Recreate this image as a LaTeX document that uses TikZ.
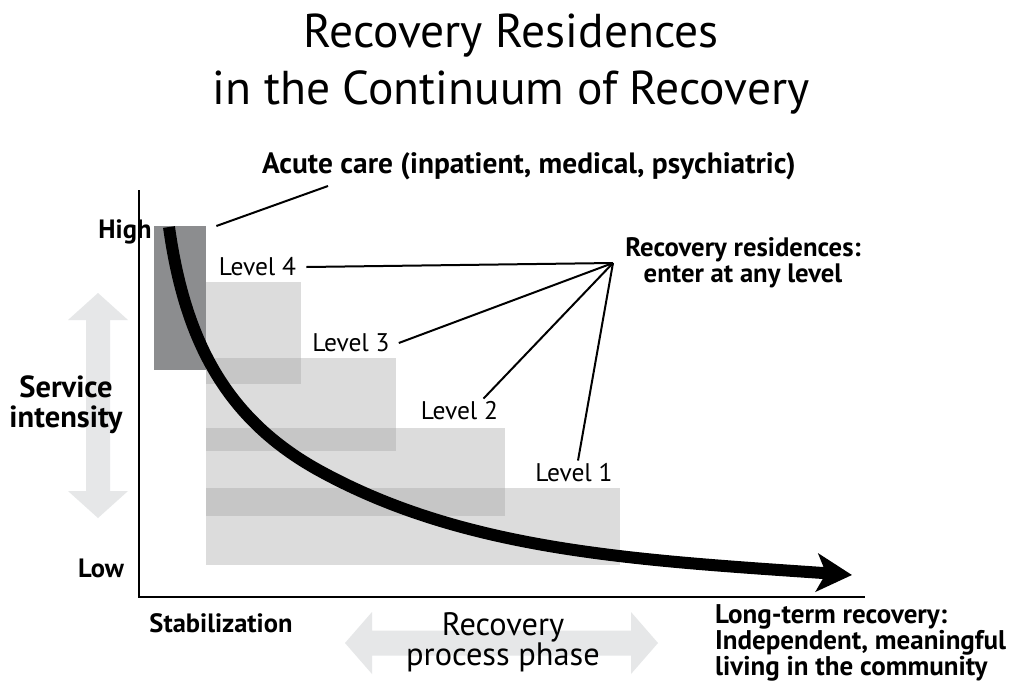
\documentclass[tikz,border=0pt]{standalone}
\usepackage{fontspec}
\setmainfont{PT Sans}
\usetikzlibrary{arrows.meta}
\definecolor{boxgray}{gray}{0.652}
\definecolor{acutegray}{HTML}{8C8D8F}
\definecolor{arrgray}{HTML}{E6E7E8}
\begin{document}
\begin{tikzpicture}[x=1pt,y=-1pt,
  lvlbox/.style={fill=boxgray, fill opacity=0.394, draw=none, inner sep=0pt, anchor=north west},
  acutebox/.style={fill=acutegray, draw=none, inner sep=0pt, anchor=north west},
  lvltxt/.style={font=\fontsize{25.5}{28}\selectfont, inner sep=1pt},
  boldtxt/.style={inner sep=1pt, align=center},
  small/.style={font=\fontsize{26.5}{27}\selectfont\bfseries, inner sep=1pt},
  leader/.style={line width=2pt, black},
  bigarrow/.style={fill=arrgray, draw=none}
]
\useasboundingbox (0,0) rectangle (1013,683);
\fill[white] (0,0) rectangle (1013,683);

% title
\node[font=\fontsize{47.5}{57}\selectfont, align=center] (title) at (511,64)
  {Recovery Residences\\in the Continuum of Recovery};

% grey double arrows
\fill[bigarrow] (98,293) -- (128,320) -- (110,320) -- (110,491) -- (128,491) -- (98,518)
  -- (68,491) -- (86,491) -- (86,320) -- (68,320) -- cycle;
\fill[bigarrow] (345,643) -- (372,612) -- (372,630.5) -- (631,630.5) -- (631,612) -- (658,643)
  -- (631,674) -- (631,655.5) -- (372,655.5) -- (372,674) -- cycle;

% boxes
\node[acutebox, minimum width=52pt, minimum height=144pt] (acute) at (154,226) {};
\node[lvlbox, minimum width=95pt, minimum height=102pt] (b4) at (206,282) {};
\node[lvlbox, minimum width=190pt, minimum height=93pt] (b3) at (206,358) {};
\node[lvlbox, minimum width=299pt, minimum height=88pt] (b2) at (206,428) {};
\node[lvlbox, minimum width=414pt, minimum height=77pt] (b1) at (206,488) {};

% axes
\draw[line width=2.5pt] (139,190) -- (139,597) -- (865,597);

% curve
\draw[line width=12pt, -{Stealth[length=35pt, width=38pt, inset=9pt]}]
  (169,227) .. controls (184.6,338.8) and (225,419) .. (320,471)
  .. controls (466,551) and (634.5,560) .. (852,575);

% labels
\node[boldtxt, font=\fontsize{29.4}{30}\selectfont\bfseries] (acutetxt) at (529,166)
  {Acute care (inpatient, medical, psychiatric)};
\node[small] (high) at (125,232) {High};
\node[small] (low) at (101,568) {Low};
\node[font=\fontsize{30.5}{30}\selectfont\bfseries, align=center, inner sep=0pt] (si) at (66,405) {Service\\intensity};
\node[small] (stab) at (221,623) {Stabilization};
\node[font=\fontsize{32.4}{29}\selectfont, align=center] (rpp) at (503,642) {Recovery\\process phase};
\node[align=left, anchor=west, inner sep=0pt, font=\fontsize{27}{22.5}\selectfont\bfseries] (lt) at (715,643)
  {Long-term recovery:\\Independent, meaningful\\living in the community};
\node[boldtxt, font=\fontsize{26.7}{26}\selectfont\bfseries] (rr) at (743,263)
  {Recovery residences:\\enter at any level};

\node[lvltxt] (l4) at (257.5,267) {Level 4};
\node[lvltxt] (l3) at (351,343) {Level 3};
\node[lvltxt] (l2) at (459.5,411) {Level 2};
\node[lvltxt] (l1) at (574,473) {Level 1};

% leaders
\coordinate (hub) at (613,263);
\draw[leader] ([xshift=10pt]acute.north east) -- (328,186);
\draw[leader] ([xshift=9pt]l4.east) -- (hub);
\draw[leader] ([xshift=8pt]l3.east) -- (hub);
\draw[leader] ([xshift=24pt,yshift=2pt]l2.north) -- (hub);
\draw[leader] ([xshift=4pt,yshift=2pt]l1.north) -- (hub);
\end{tikzpicture}
\end{document}
